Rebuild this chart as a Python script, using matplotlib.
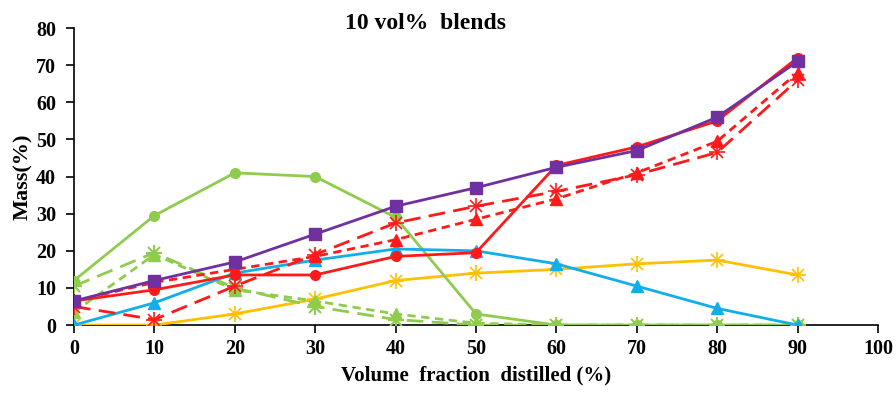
import matplotlib
matplotlib.use("Agg")
import matplotlib.pyplot as plt

plt.rcParams["font.family"] = ["Liberation Serif", "DejaVu Serif"]
plt.rcParams["font.weight"] = "bold"

x = [0, 10, 20, 30, 40, 50, 60, 70, 80, 90]

purple_sq = [6.5, 12, 17, 24.5, 32, 37, 42.5, 47, 56, 71]
red_circ = [6.5, 9.5, 13.5, 13.5, 18.5, 19.5, 43, 48, 55, 72]
red_tri = [6.5, 11.5, 15, 18.5, 23, 28.5, 34, 41, 49.5, 68]
red_star = [5, 1.5, 10.5, 19, 27.5, 32, 36, 40.5, 46.5, 66]
blue_tri = [0, 6, 14, 17.5, 20.5, 20, 16.5, 10.5, 4.5, 0]
yellow_star = [0, 0, 3, 7, 12, 14, 15, 16.5, 17.5, 13.5]
green_circ = [12, 29.5, 41, 40, 29, 3, 0, 0, 0, 0]
green_tri = [3.5, 19, 9.5, 6.5, 3, 0.5, 0, 0, 0, 0]
green_star = [10.5, 19.5, 10, 5, 1.5, 0, 0, 0, 0, 0]

purple = "#7030A0"
red = "#FF1A1A"
blue = "#12AEEA"
yellow = "#FFC000"
green = "#8FCC4E"

fig = plt.figure(figsize=(8.96, 3.95), dpi=100)
ax = fig.add_axes([0.0826, 0.177, 0.8973, 0.752])

lw = 2.0
ax.plot(x, yellow_star, color=yellow, lw=lw, marker="x", ms=9, mew=1.2, zorder=3)
ax.plot(x, yellow_star, color=yellow, lw=0, marker="+", ms=11, mew=1.2, zorder=3)
ax.plot(x, green_circ, color=green, lw=lw, marker="o", ms=7, zorder=3)
ax.plot(x, green_star, color=green, lw=lw, ls=(0, (6, 3)), marker="x", ms=9, mew=1.5, zorder=3)
ax.plot(x, green_star, color=green, lw=0, marker="+", ms=11, mew=1.5, zorder=3)
ax.plot(x, green_tri, color=green, lw=lw, ls=(0, (3, 2)), marker="^", ms=8, zorder=3)
ax.plot(x, blue_tri, color=blue, lw=lw, marker="^", ms=9, zorder=4)
ax.plot(x, red_star, color=red, lw=lw, ls=(0, (6, 3)), marker="x", ms=9, mew=1.2, zorder=4)
ax.plot(x, red_star, color=red, lw=0, marker="+", ms=11, mew=1.2, zorder=4)
ax.plot(x, red_tri, color=red, lw=lw, ls=(0, (3, 2)), marker="^", ms=8, zorder=4)
ax.plot(x, red_circ, color=red, lw=lw, marker="o", ms=7, zorder=5)
ax.plot(x, purple_sq, color=purple, lw=lw, marker="s", ms=9, zorder=5)

ax.set_xlim(0, 100)
ax.set_ylim(0, 80)
ax.set_xticks(range(0, 101, 10))
ax.set_yticks(range(0, 81, 10))
ax.spines["top"].set_visible(False)
ax.spines["right"].set_visible(False)
ax.spines["left"].set_linewidth(1.2)
ax.spines["bottom"].set_linewidth(1.2)
ax.tick_params(direction="out", length=6, width=1.2, labelsize=14.5)
ax.tick_params(axis="y", pad=7)
ax.tick_params(axis="x", pad=4)
for lab in ax.get_xticklabels() + ax.get_yticklabels():
    lab.set_fontweight("bold")

ax.set_xlabel("Volume  fraction  distilled (%)", fontsize=15, fontweight="bold", labelpad=5)
ax.set_ylabel("Mass(%)", fontsize=16, fontweight="bold", labelpad=2)
fig.text(0.475, 0.94, "10 vol%  blends", ha="center", va="center",
         fontsize=17, fontweight="bold")

fig.savefig("out.png", dpi=100)
